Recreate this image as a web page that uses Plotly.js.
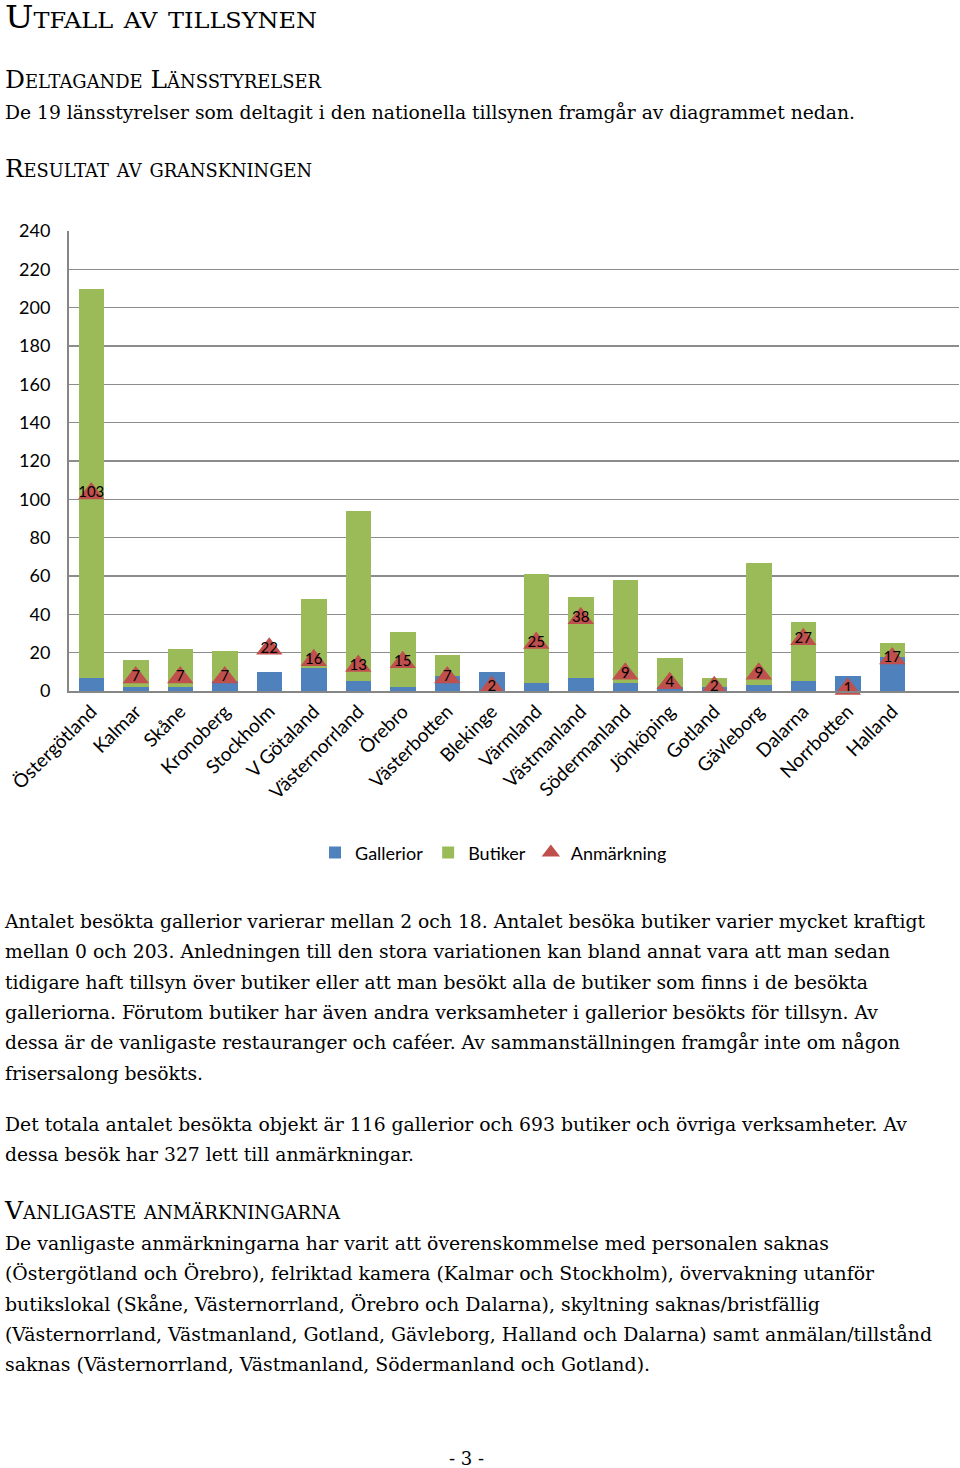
<!DOCTYPE html>
<html>
<head>
<meta charset="utf-8">
<script src="https://cdn.plot.ly/plotly-3.0.1.min.js"></script>
<style>
  html, body { margin:0; padding:0; background:#fff; }
  #page { position:relative; width:960px; height:1468px; overflow:hidden; background:#fff; }
  .ln { position:absolute; left:5px; white-space:nowrap; font-family:"DejaVu Serif", serif; font-size:18px; line-height:26px; color:#000; transform-origin:0 50%; }
  .hd { font-variant:small-caps; font-size:25px; line-height:30px; }
  .ttl { font-variant:small-caps; font-size:31px; line-height:36px; }
  .pn { line-height:18px; }
  #chart { position:absolute; left:0; top:200px; width:960px; height:690px; }
</style>
</head>
<body>
<div id="page">
  <div id="chart"></div>
</div>
<script>
// ---------- data ----------
const categories = ["Östergötland","Kalmar","Skåne","Kronoberg","Stockholm","V Götaland","Västernorrland","Örebro","Västerbotten","Blekinge","Värmland","Västmanland","Södermanland","Jönköping","Gotland","Gävleborg","Dalarna","Norrbotten","Halland"];
const gallerior   = [7, 2, 2, 5, 10, 12, 5, 2, 8, 10, 4, 7, 4, 2, 2, 3, 5, 8, 18];
const butiker     = [203, 14, 20, 16, 0, 36, 89, 29, 11, 0, 57, 42, 54, 15, 5, 64, 31, 0, 7];
const anmarkning  = [103, 7, 7, 7, 22, 16, 13, 15, 7, 2, 25, 38, 9, 4, 2, 9, 27, 1, 17];
const seriesNames = ["Gallerior", "Butiker", "Anmärkning"];
const yTicks = [0, 20, 40, 60, 80, 100, 120, 140, 160, 180, 200, 220, 240];

// ---------- text lines: [text, class, centerY, targetRight] ----------
const textLines = [
  ["Utfall av tillsynen", "ttl", 17, 317],
  ["Deltagande Länsstyrelser", "hd", 80, 321],
  ["De 19 länsstyrelser som deltagit i den nationella tillsynen framgår av diagrammet nedan.", "", 113, 855],
  ["Resultat av granskningen", "hd", 169, 312],
  ["Antalet besökta gallerior varierar mellan 2 och 18. Antalet besöka butiker varier mycket kraftigt", "", 922, 925],
  ["mellan 0 och 203. Anledningen till den stora variationen kan bland annat vara att man sedan", "", 952, 890],
  ["tidigare haft tillsyn över butiker eller att man besökt alla de butiker som finns i de besökta", "", 983, 868],
  ["galleriorna. Förutom butiker har även andra verksamheter i gallerior besökts för tillsyn. Av", "", 1013, 878],
  ["dessa är de vanligaste restauranger och caféer. Av sammanställningen framgår inte om någon", "", 1043, 900],
  ["frisersalong besökts.", "", 1074, 203],
  ["Det totala antalet besökta objekt är 116 gallerior och 693 butiker och övriga verksamheter. Av", "", 1125, 907],
  ["dessa besök har 327 lett till anmärkningar.", "", 1155, 414],
  ["Vanligaste anmärkningarna", "hd", 1211, 340],
  ["De vanligaste anmärkningarna har varit att överenskommelse med personalen saknas", "", 1244, 829],
  ["(Östergötland och Örebro), felriktad kamera (Kalmar och Stockholm), övervakning utanför", "", 1274, 874],
  ["butikslokal (Skåne, Västernorrland, Örebro och Dalarna), skyltning saknas/bristfällig", "", 1305, 820],
  ["(Västernorrland, Västmanland, Gotland, Gävleborg, Halland och Dalarna) samt anmälan/tillstånd", "", 1335, 932],
  ["saknas (Västernorrland, Västmanland, Södermanland och Gotland).", "", 1365, 650]
];

const page = document.getElementById('page');
textLines.forEach(([t, cls, cy, right]) => {
  const d = document.createElement('div');
  d.className = 'ln ' + cls;
  d.textContent = t;
  page.appendChild(d);
  const lh = parseFloat(getComputedStyle(d).lineHeight);
  d.style.top = (cy - lh / 2) + 'px';
  const w = d.getBoundingClientRect().width;
  const target = right - 5;
  d.style.transform = 'scaleX(' + (target / w).toFixed(4) + ')';
});
// page number
const pn = document.createElement('div');
pn.className = 'ln pn';
pn.textContent = '- 3 -';
pn.style.left = '449px';
pn.style.top = (1459 - 9) + 'px';
page.appendChild(pn);

// ---------- chart ----------
const font = "Lato, 'Open Sans', sans-serif";
const traces = [
  { type:'bar', name:seriesNames[0], x:categories, y:gallerior, marker:{color:'#4F81BD'}, hoverinfo:'skip' },
  { type:'bar', name:seriesNames[1], x:categories, y:butiker, marker:{color:'#9BBB59'}, hoverinfo:'skip' },
  { type:'scatter', mode:'markers+text', name:seriesNames[2], x:categories, y:anmarkning,
    marker:{symbol:'triangle-up', size:23, color:'#C0504D'},
    text:anmarkning.map(String), textposition:'middle center',
    textfont:{family:font, size:15, color:'#000'}, cliponaxis:false, hoverinfo:'skip' }
];
const layout = {
  width:960, height:690,
  margin:{l:69, r:1, t:31, b:199},
  paper_bgcolor:'rgba(0,0,0,0)', plot_bgcolor:'#fff',
  barmode:'stack', bargap:0.427,
  showlegend:true,
  legend:{orientation:'h', x:0.477, xanchor:'center', y:-0.352, yanchor:'middle',
          font:{family:font, size:18, color:'#000'}, traceorder:'normal', itemwidth:30},
  xaxis:{type:'category', range:[-0.5, 19.5], tickangle:-45, ticks:'',
         tickfont:{family:font, size:19, color:'#000'},
         showline:true, linecolor:'#868686', linewidth:2, showgrid:false, zeroline:false},
  yaxis:{range:[0, 240], tickvals:yTicks, ticks:'', ticklabelstandoff:13,
         tickfont:{family:font, size:18, color:'#000'},
         showline:true, linecolor:'#868686', linewidth:2,
         showgrid:true, gridcolor:'#8c8c8c', gridwidth:1.5, zeroline:false}
};
Plotly.newPlot('chart', traces, layout, {staticPlot:true, displayModeBar:false});
</script>
</body>
</html>
